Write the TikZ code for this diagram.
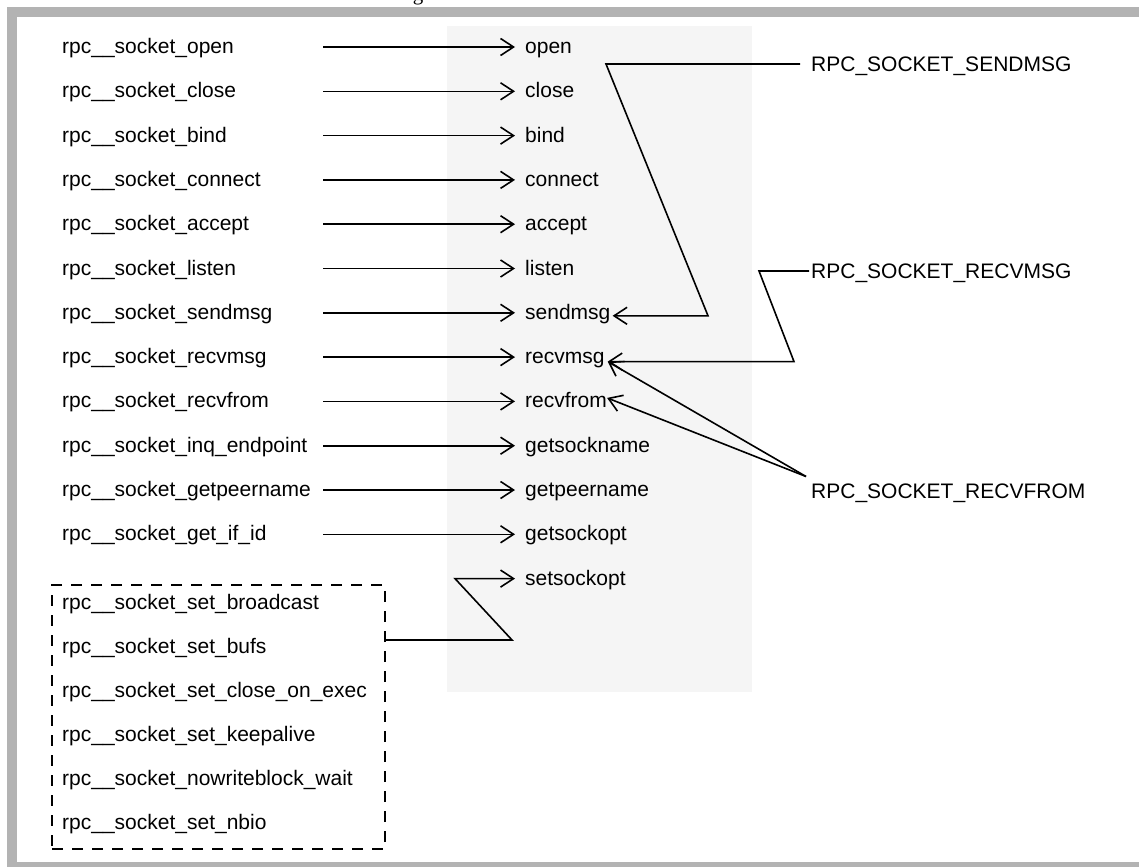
\documentclass[tikz,border=0pt]{standalone}
\usepackage{fontspec}
\setmainfont{Liberation Sans}
\newfontfamily\capfont{Liberation Serif}
\usetikzlibrary{arrows.meta,calc}
\definecolor{framegray}{HTML}{B3B3B3}
\definecolor{colbg}{HTML}{F5F5F5}
\tikzset{
  lbl/.style={inner sep=0pt, font=\fontsize{21pt}{25pt}\selectfont, anchor=base west},
  arr/.style={line width=1.6pt, -{Straight Barb[length=13pt,width=17pt]}},
  dbox/.style={draw, line width=1.2pt, dash pattern=on 11pt off 9pt, minimum width=333pt, minimum height=264pt, inner sep=0pt},
}
\begin{document}
\begin{tikzpicture}[x=1pt,y=1pt]
\useasboundingbox (0,0) rectangle (1139,-867);
\fill[white] (0,0) rectangle (1139,-867);
% frame
\fill[framegray] (7,-7) rectangle (1139,-17);
\fill[framegray] (7,-7) rectangle (17,-867);
\fill[framegray] (7,-862) rectangle (1139,-867);
% caption fragment
\node[inner sep=0pt, anchor=base, font=\capfont\fontsize{21pt}{25pt}\selectfont] (cap) at (418,-1) {g};
% shaded column
\fill[colbg] (447,-26) rectangle (752,-692);
% main rows
\foreach \i/\l/\r in {0/open/open,1/close/close,2/bind/bind,3/connect/connect,4/accept/accept,5/listen/listen,6/sendmsg/sendmsg,7/recvmsg/recvmsg,8/recvfrom/recvfrom,9/inq\_endpoint/getsockname,10/getpeername/getpeername,11/get\_if\_id/getsockopt}{
  \pgfmathsetmacro\b{-(53.5+44.3*\i)}
  \node[lbl] (L\i) at (62,\b) {rpc\_\_socket\_\l};
  \node[lbl] (R\i) at (525,\b) {\r};
  \coordinate (a\i) at (323,\b+6.5);
  \draw[arr] (a\i) -- ([xshift=-10pt,yshift=6.5pt]R\i.base west);
}
\node[lbl] (R12) at (525,-585.1) {setsockopt};
% dashed group
\node[dbox] (grp) at (218.5,-717) {};
\foreach \i/\t in {0/set\_broadcast,1/set\_bufs,2/set\_close\_on\_exec,3/set\_keepalive,4/nowriteblock\_wait,5/set\_nbio}{
  \node[lbl] (D\i) at (62,{-(609.5+44*\i)}) {rpc\_\_socket\_\t};
}
\coordinate (z1) at (512,-640);
\coordinate (z2) at (455,-578.6);
\draw[arr] (grp.east |- z1) -- (z1) -- (z2) -- ([xshift=-10pt,yshift=6.5pt]R12.base west);
% right-hand labels
\node[lbl] (SM) at (811,-71.5) {RPC\_SOCKET\_SENDMSG};
\node[lbl] (RM) at (811,-278.5) {RPC\_SOCKET\_RECVMSG};
\node[lbl] (RF) at (811,-498.5) {RPC\_SOCKET\_RECVFROM};
\coordinate (sm1) at (606,-64);
\coordinate (sm2) at (708,-315.8);
\draw[arr] ([xshift=-11pt,yshift=7.5pt]SM.base west) -- (sm1) -- (sm2) -- ([xshift=2pt,yshift=3.5pt]R6.base east);
\coordinate (rm1) at (759,-271);
\coordinate (rm2) at (794,-361.6);
\draw[arr] ([xshift=-2pt,yshift=7.5pt]RM.base west) -- (rm1) -- (rm2) -- ([xshift=3pt,yshift=2pt]R7.base east);
\coordinate (rf0) at ([xshift=-5pt,yshift=22pt]RF.base west);
\draw[arr] (rf0) -- ([xshift=3pt,yshift=2pt]R7.base east);
\draw[arr] (rf0) -- ([xshift=0pt,yshift=10pt]R8.base east);
\end{tikzpicture}
\end{document}
